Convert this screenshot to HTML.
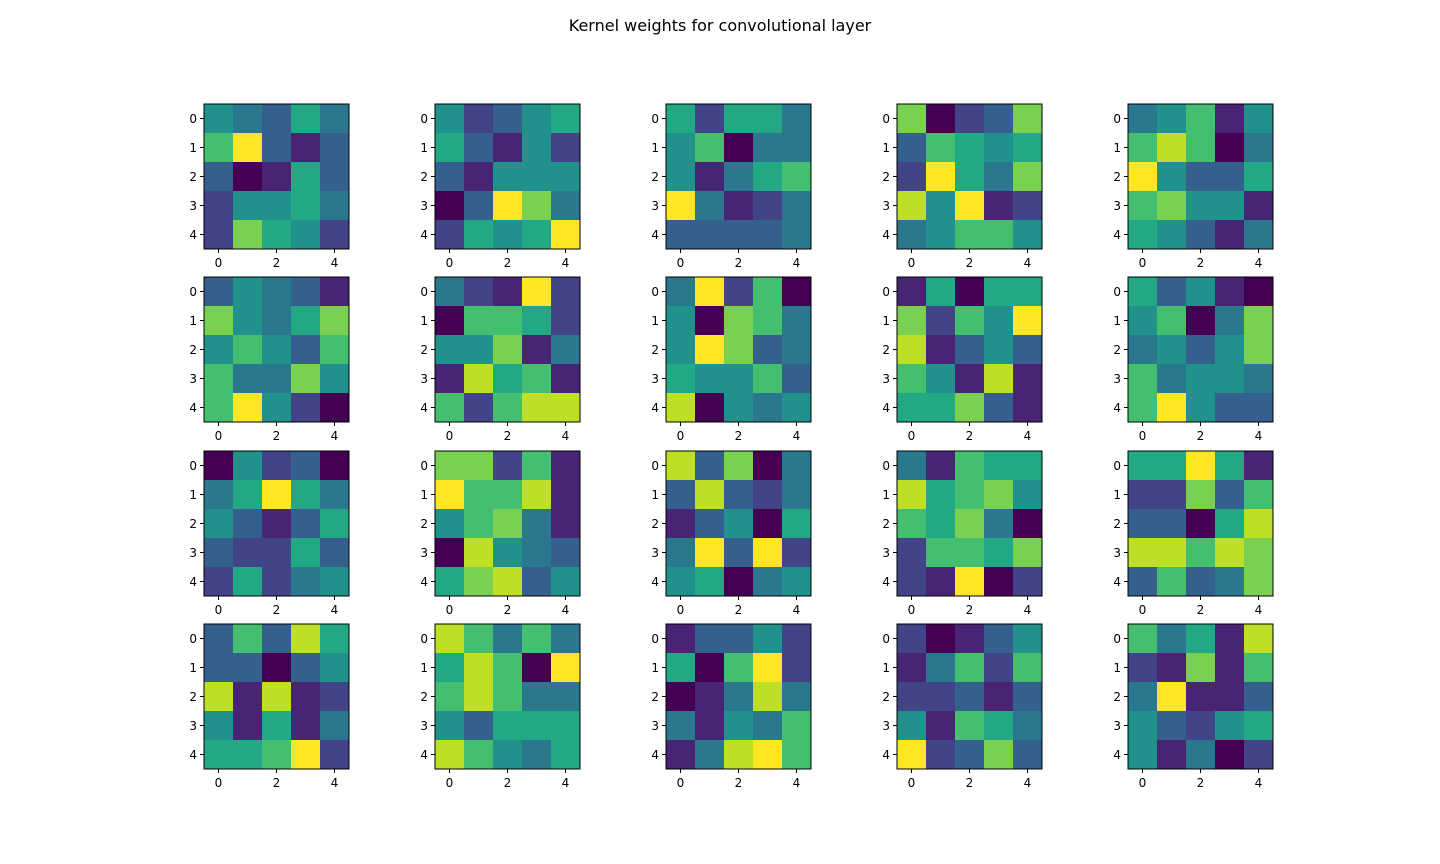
<!DOCTYPE html>
<html><head><meta charset="utf-8"><style>
html,body{margin:0;padding:0;background:#fff;}
svg{display:block;font-family:"DejaVu Sans","Liberation Sans",sans-serif;}
</style></head><body>
<svg id="fig" width="1440" height="864" viewBox="0 0 1440 864">
<rect width="1440" height="864" fill="#fff"/>
<text x="720" y="31" text-anchor="middle" font-size="16">Kernel weights for convolutional layer</text>
</svg>
<script>
// kernel values (0..10 scale, per-kernel normalized), one string per row
const kernelsRow1 = [
 ["54364","7a313","30163","25564","28652"],
 ["52356","63152","31555","03a84","2656a"],
 ["62664","57044","51467","a4124","33334"],
 ["80238","37656","2a648","95a12","45775"],
 ["45715","79704","a5336","78551","65314"]
];
const kernelsRow2 = [
 ["35431","85468","57537","74485","7a520"],
 ["421a2","07762","55814","19671","72799"],
 ["4a270","50874","5a834","65573","90545"],
 ["16066","8275a","91353","75191","66831"],
 ["63510","57048","45358","74554","7a533"]
];
const kernelsRow3 = [
 ["05230","46a64","53136","32263","26245"],
 ["88271","a7791","57841","09543","68935"],
 ["93804","39324","13506","4a3a2","56045"],
 ["41766","96785","76840","27768","21a02"],
 ["66a61","22837","33069","99798","37348"]
];
const kernelsRow4 = [
 ["37396","33035","91912","51614","667a2"],
 ["97474","6970a","79744","53666","97546"],
 ["13352","607a2","01494","41547","149a7"],
 ["20135","14727","22313","51764","a2383"],
 ["74619","21817","4a113","53256","51402"]
];
const gridRows = [kernelsRow1, kernelsRow2, kernelsRow3, kernelsRow4];
const xTickLabels = ["0","2","4"];
const yTickLabels = ["0","1","2","3","4"];

const VIR = ["#440154","#482475","#414487","#355f8d","#2a788e","#21918c","#22a884","#44bf70","#7ad151","#bddf26","#fde725"];
function hex(h){return [1,3,5].map(i=>parseInt(h.substr(i,2),16));}
function viridis(t){
  t=Math.max(0,Math.min(1,t));const p=t*10,i=Math.min(9,Math.floor(p)),f=p-i;
  const a=hex(VIR[i]),b=hex(VIR[i+1]);
  return "rgb("+a.map((v,k)=>Math.round(v+(b[k]-v)*f)).join(",")+")";
}
const NS="http://www.w3.org/2000/svg";
const svg=document.getElementById("fig");
const axLeft=[204,435,666,897,1128], axTop=[104,277,451,624], AW=145, AH=145;
function el(tag,attrs,parent){const e=document.createElementNS(NS,tag);for(const k in attrs)e.setAttribute(k,attrs[k]);(parent||svg).appendChild(e);return e;}

gridRows.forEach((row,ri)=>{
  row.forEach((kernel,ci)=>{
    const x0=axLeft[ci], y0=axTop[ri];
    const n=kernel.length, cw=AW/n, ch=AH/n;
    const xScale=j=>x0+(j+0.5)*cw, yScale=i=>y0+(i+0.5)*ch;
    const g=el("g",{});
    
    
    kernel.forEach((rowStr,i)=>{
      rowStr.split("").forEach((c,j)=>{
        const v=parseInt(c,16)/10;
        const r=el("rect",{x:(xScale(j)-cw/2).toFixed(2),y:(yScale(i)-ch/2).toFixed(2),width:(cw+0.4).toFixed(2),height:(ch+0.4).toFixed(2),fill:viridis(v)},g);
        
        
      });
    });
    const fr=el("rect",{x:x0,y:y0,width:AW,height:AH,fill:"none",stroke:"#000","stroke-width":1},g);
    
    
    yTickLabels.forEach((lab,i)=>{
      const y=yScale(i);
      el("line",{x1:x0,x2:x0-4,y1:y,y2:y,stroke:"#000","stroke-width":1},g);
      const t=el("text",{x:x0-7,y:y+4.5,"text-anchor":"end","font-size":"12"},g);
      t.textContent=lab;
      
      
    });
    xTickLabels.forEach(lab=>{
      const x=xScale(+lab);
      el("line",{x1:x,x2:x,y1:y0+AH,y2:y0+AH+4,stroke:"#000","stroke-width":1},g);
      const t=el("text",{x:x,y:y0+AH+18,"text-anchor":"middle","font-size":"12"},g);
      t.textContent=lab;
      
      
    });
  });
});
</script>
</body></html>
